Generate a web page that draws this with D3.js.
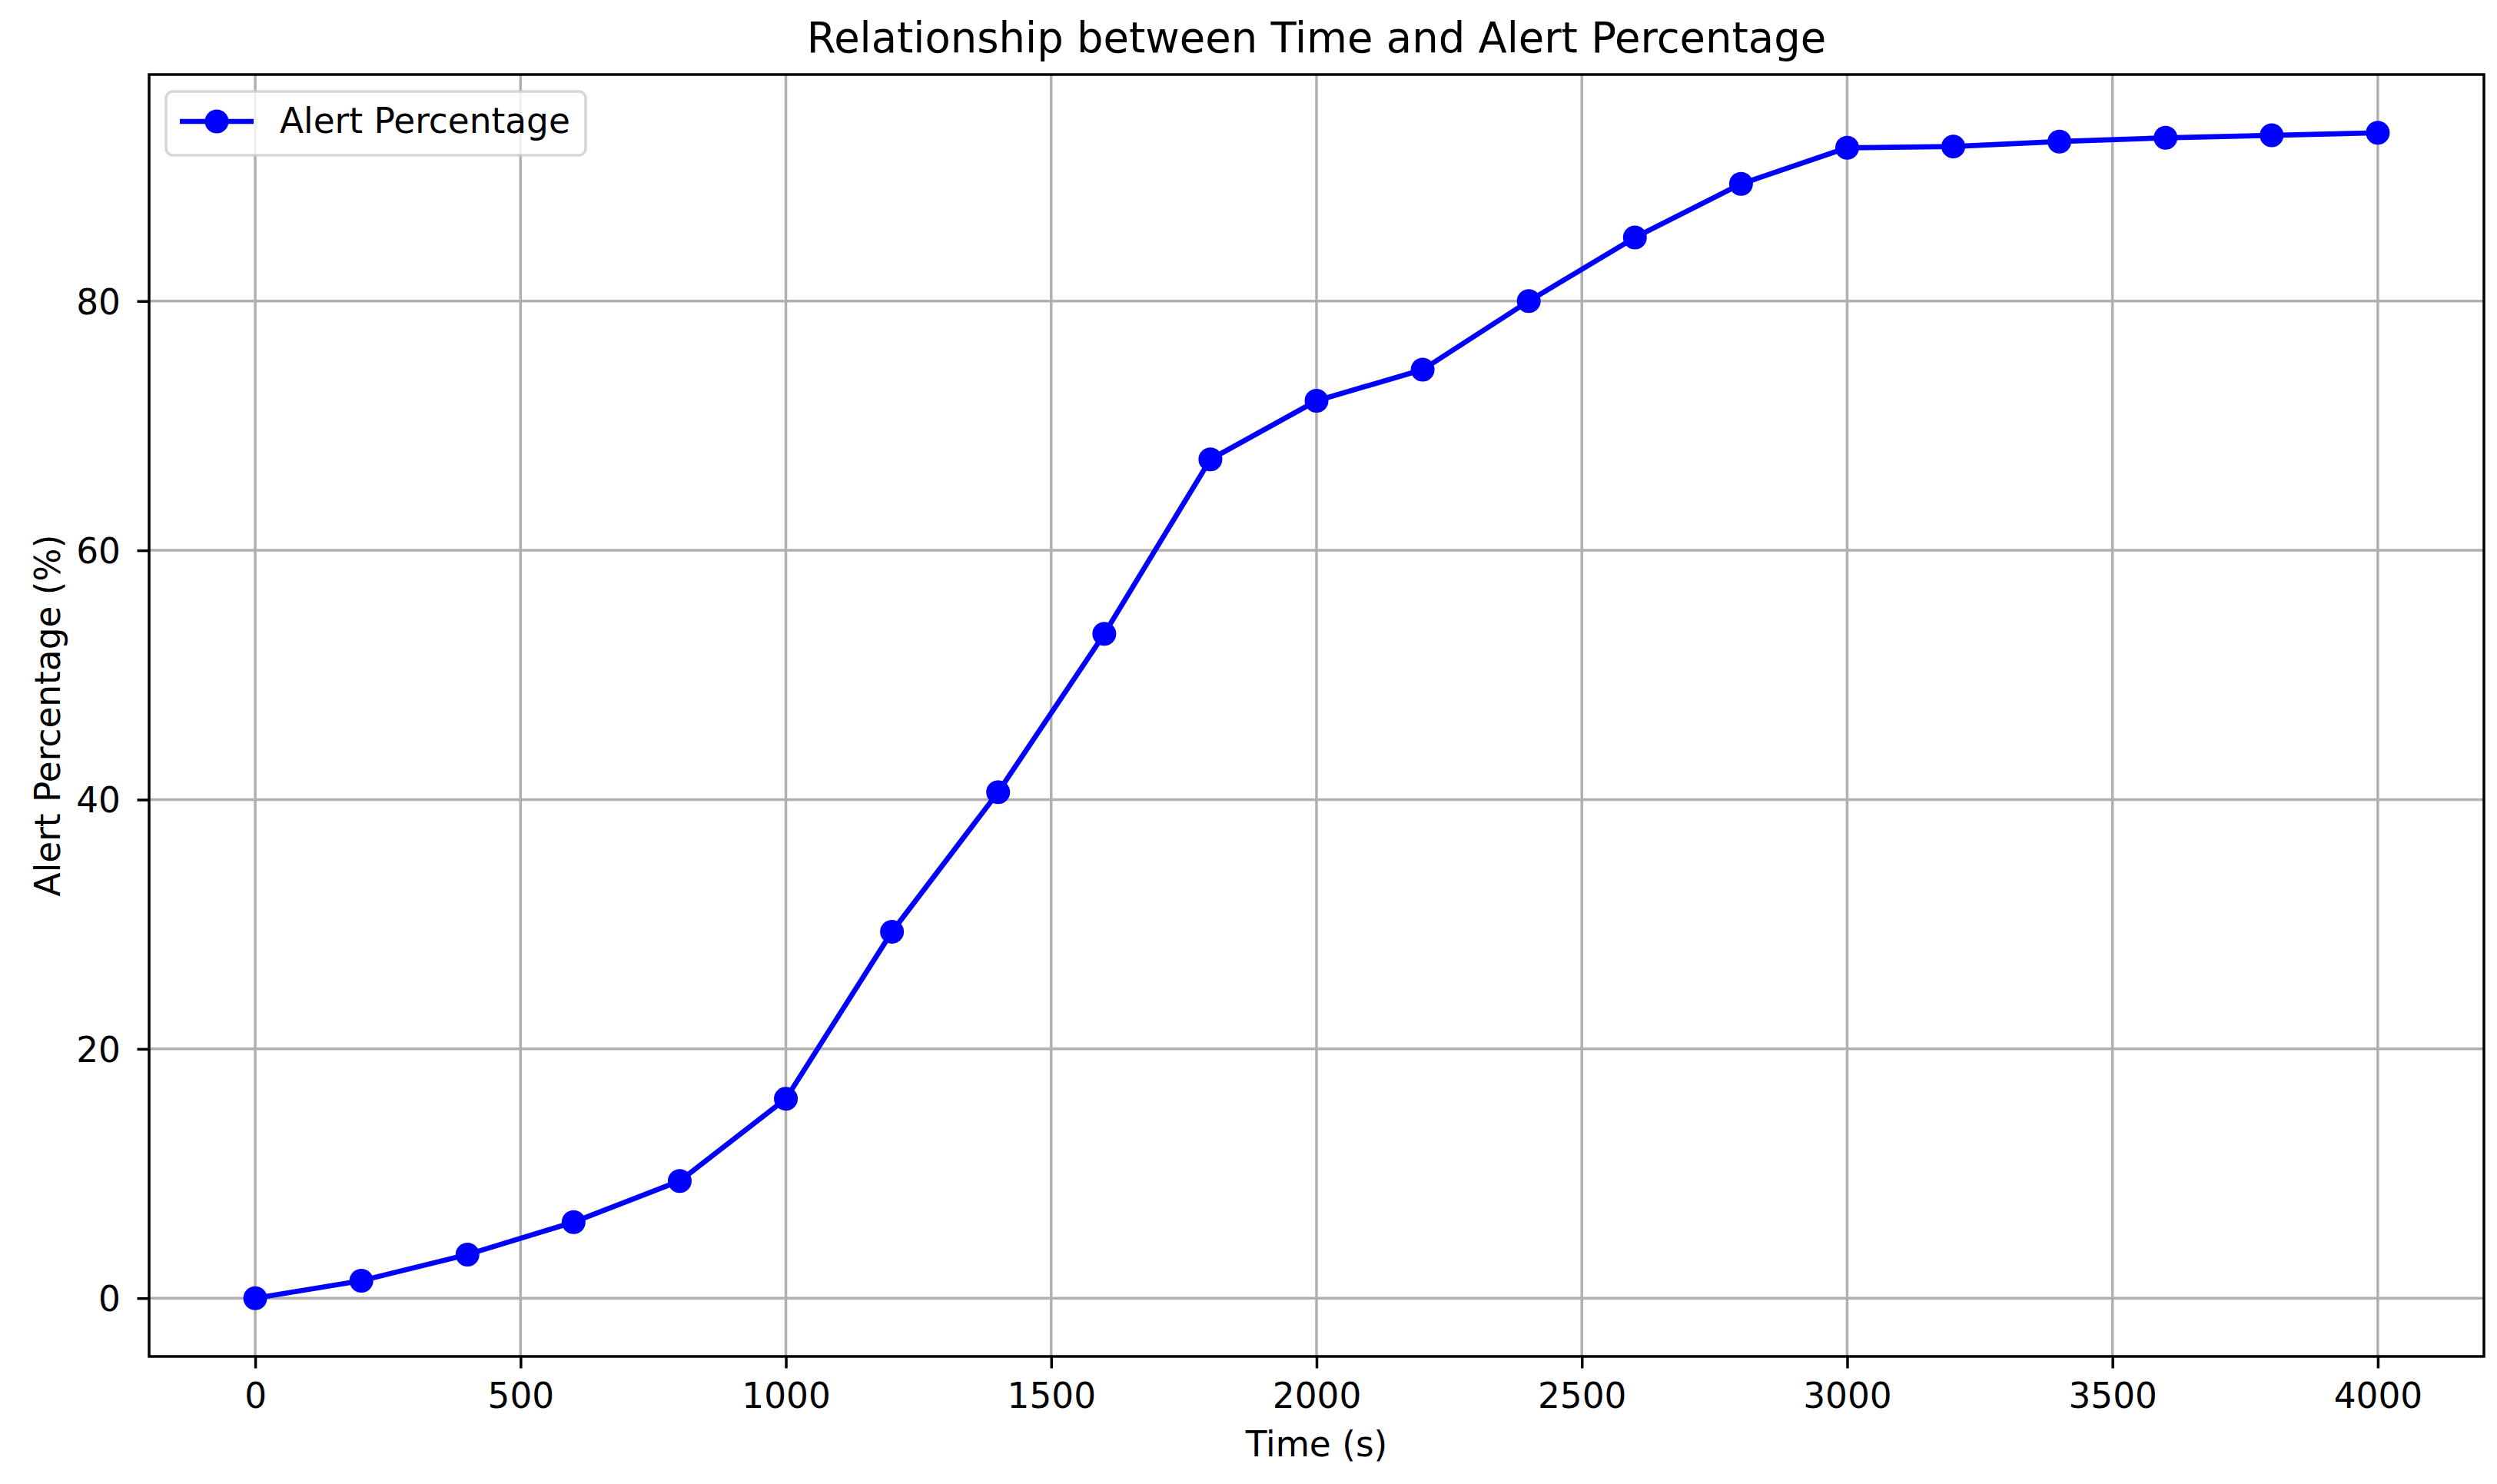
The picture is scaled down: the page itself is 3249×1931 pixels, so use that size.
<!DOCTYPE html>
<html>
<head>
<meta charset="utf-8">
<script src="https://cdn.jsdelivr.net/npm/d3@7"></script>
<style>
  html, body { margin: 0; padding: 0; background: #ffffff; }
  svg { display: block; }
  text { font-family: "DejaVu Sans", sans-serif; fill: #000; }
</style>
</head>
<body>
<script>
// ---- Data ----
const timeValues = [0, 200, 400, 600, 800, 1000, 1200, 1400, 1600, 1800, 2000, 2200, 2400, 2600, 2800, 3000, 3200, 3400, 3600, 3800, 4000];
const alertValues = [0, 1.4, 3.5, 6.1, 9.4, 16.0, 29.4, 40.6, 53.3, 67.3, 72.0, 74.5, 80.0, 85.1, 89.4, 92.3, 92.4, 92.8, 93.1, 93.3, 93.5];
const xTickValues = [0, 500, 1000, 1500, 2000, 2500, 3000, 3500, 4000];
const yTickValues = [0, 20, 40, 60, 80];
const titleText = "Relationship between Time and Alert Percentage";
const xLabelText = "Time (s)";
const yLabelText = "Alert Percentage (%)";
const seriesName = "Alert Percentage";

// ---- Layout ----
const W = 3249, H = 1931;
const plot = { left: 194, right: 3232, top: 97, bottom: 1765 };
const fs = 45.4;

const svg = d3.select("body").append("svg").attr("width", W).attr("height", H);
svg.append("rect").attr("width", W).attr("height", H).attr("fill", "#ffffff");

const xMin = d3.min(timeValues), xMax = d3.max(timeValues);
const yMin = d3.min(alertValues), yMax = d3.max(alertValues);
const xPad = (xMax - xMin) * 0.05, yPad = (yMax - yMin) * 0.05;

const x = d3.scaleLinear().domain([xMin - xPad, xMax + xPad]).range([plot.left, plot.right]);
const y = d3.scaleLinear().domain([yMin - yPad, yMax + yPad]).range([plot.bottom, plot.top]);

// grid
const grid = svg.append("g");
grid.selectAll("line.vx").data(xTickValues).enter().append("line")
  .attr("x1", d => x(d)).attr("x2", d => x(d))
  .attr("y1", plot.top).attr("y2", plot.bottom)
  .attr("stroke", "#b0b0b0").attr("stroke-width", 3.5);
grid.selectAll("line.hy").data(yTickValues).enter().append("line")
  .attr("x1", plot.left).attr("x2", plot.right)
  .attr("y1", d => y(d)).attr("y2", d => y(d))
  .attr("stroke", "#b0b0b0").attr("stroke-width", 3.5);

// line + markers
const line = d3.line().x((d, i) => x(timeValues[i])).y(d => y(d));
svg.append("path").datum(alertValues)
  .attr("d", line).attr("fill", "none")
  .attr("stroke", "#0000ff").attr("stroke-width", 6.7)
  .attr("stroke-linejoin", "round").attr("stroke-linecap", "square");
svg.append("g").selectAll("circle").data(alertValues).enter().append("circle")
  .attr("cx", (d, i) => x(timeValues[i])).attr("cy", d => y(d))
  .attr("r", 15.5).attr("fill", "#0000ff");

// axes
const xAxis = d3.axisBottom(x).tickValues(xTickValues).tickFormat(d3.format("d"))
  .tickSize(15.5).tickPadding(19.5);
const gx = svg.append("g").attr("transform", `translate(0,${plot.bottom})`).call(xAxis);
const yAxis = d3.axisLeft(y).tickValues(yTickValues).tickFormat(d3.format("d"))
  .tickSize(15.5).tickPadding(21.5);
const gy = svg.append("g").attr("transform", `translate(${plot.left},0)`).call(yAxis);
[gx, gy].forEach(g => {
  g.select(".domain").remove();
  g.selectAll(".tick line").attr("stroke", "#000").attr("stroke-width", 3.5);
  g.selectAll(".tick text").attr("font-size", fs).attr("font-family", "DejaVu Sans").attr("fill", "#000");
});
gy.selectAll(".tick text").attr("dy", "0.36em");

// spines
svg.append("rect")
  .attr("x", plot.left).attr("y", plot.top)
  .attr("width", plot.right - plot.left).attr("height", plot.bottom - plot.top)
  .attr("fill", "none").attr("stroke", "#000").attr("stroke-width", 3.5);

// title and labels
svg.append("text").attr("x", (plot.left + plot.right) / 2).attr("y", 68)
  .attr("text-anchor", "middle").attr("font-size", 54.4).text(titleText);
svg.append("text").attr("x", (plot.left + plot.right) / 2).attr("y", 1895)
  .attr("text-anchor", "middle").attr("font-size", fs).text(xLabelText);
svg.append("text")
  .attr("transform", `translate(78,${(plot.top + plot.bottom) / 2}) rotate(-90)`)
  .attr("text-anchor", "middle").attr("font-size", fs).text(yLabelText);

// legend
const lg = svg.append("g");
lg.append("rect").attr("x", 216).attr("y", 119).attr("width", 546).attr("height", 83)
  .attr("rx", 9).attr("ry", 9)
  .attr("fill", "#ffffff").attr("fill-opacity", 0.8)
  .attr("stroke", "#cccccc").attr("stroke-opacity", 0.8).attr("stroke-width", 3.5);
lg.append("line").attr("x1", 234).attr("x2", 330).attr("y1", 158).attr("y2", 158)
  .attr("stroke", "#0000ff").attr("stroke-width", 6.7);
lg.append("circle").attr("cx", 282).attr("cy", 158).attr("r", 15.5).attr("fill", "#0000ff");
lg.append("text").attr("x", 364).attr("y", 173).attr("font-size", fs).text(seriesName);
</script>
</body>
</html>
